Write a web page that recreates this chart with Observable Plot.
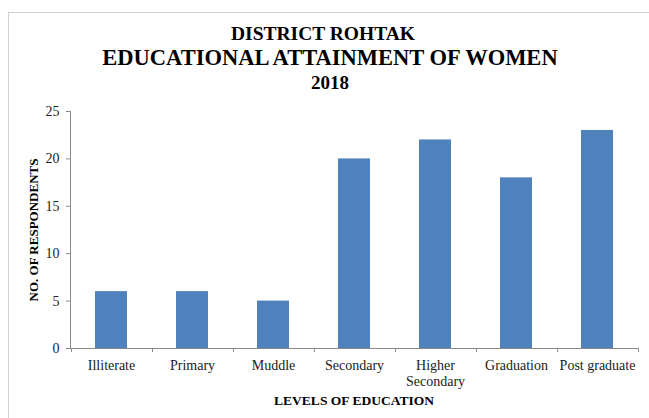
<!DOCTYPE html>
<html>
<head>
<meta charset="utf-8">
<script src="https://cdn.jsdelivr.net/npm/d3@7"></script>
<script src="https://cdn.jsdelivr.net/npm/@observablehq/plot@0.6"></script>
<style>
  html, body { margin: 0; padding: 0; background: #fff; overflow: hidden; }
  #wrap { position: relative; width: 649px; height: 418px; overflow: hidden; font-family: "Liberation Serif", "Times New Roman", serif; color: #000; }
  #border { position: absolute; left: 8px; top: 12px; width: 700px; height: 500px; border: 1px solid #d0d0d0; box-sizing: border-box; }
  .t { position: absolute; left: 330px; transform: translateX(-50%); white-space: nowrap; font-weight: bold; line-height: 1; font-family: "Liberation Serif", "Times New Roman", serif; }
  #plot { position: absolute; left: 0; top: 0; }
  #ylab { position: absolute; left: 34px; top: 230px; transform: translate(-50%, -50%) rotate(-90deg); white-space: nowrap; font-weight: bold; font-size: 13px; }
  #xlab { position: absolute; left: 354px; top: 394px; transform: translateX(-50%); white-space: nowrap; font-weight: bold; font-size: 13.5px; line-height: 1; }
</style>
</head>
<body>
<div id="wrap">
  <div id="border"></div>
  <div id="plot"></div>
  <div class="t" style="top:24px;font-size:19.5px;left:323px;">DISTRICT ROHTAK</div>
  <div class="t" style="top:47px;font-size:22.5px;">EDUCATIONAL ATTAINMENT OF WOMEN</div>
  <div class="t" style="top:73px;font-size:19px;">2018</div>
  <div id="ylab">NO. OF RESPONDENTS</div>
  <div id="xlab">LEVELS OF EDUCATION</div>
</div>
<script>
const categories = ["Illiterate", "Primary", "Muddle", "Secondary", "Higher Secondary", "Graduation", "Post graduate"];
const tickLabels = ["Illiterate", "Primary", "Muddle", "Secondary", "Higher\nSecondary", "Graduation", "Post graduate"];
const respondents = [6, 6, 5, 20, 22, 18, 23];
const yTicks = [0, 5, 10, 15, 20, 25];

const data = categories.map((c, i) => ({category: c, value: respondents[i]}));
const labelOf = new Map(categories.map((c, i) => [c, tickLabels[i]]));

const plot = Plot.plot({
  width: 649,
  height: 418,
  marginTop: 111,
  marginBottom: 70,
  marginLeft: 70,
  marginRight: 11,
  style: {fontFamily: "'Liberation Serif', 'Times New Roman', serif", background: "transparent", overflow: "visible"},
  x: {domain: categories, paddingInner: 0.6, paddingOuter: 0.3},
  y: {domain: [0, 25]},
  marks: [
    Plot.barY(data, {x: "category", y: "value", fill: "#4f81bd"}),
    Plot.ruleY([0], {stroke: "#8c8c8c"}),
    Plot.axisY({ticks: yTicks, tickSize: 4, tickPadding: 7, stroke: "#8c8c8c", fill: "#222", fontSize: 14, label: null}),
    Plot.axisX({tickSize: 0, tickPadding: 10, fill: "#222", fontSize: 14, lineHeight: 1.15, tickFormat: d => labelOf.get(d), label: null})
  ]
});
document.getElementById("plot").appendChild(plot);

// axis line on the left and boundary ticks on the x axis, using the plot's scales
const xs = plot.scale("x"), ys = plot.scale("y");
const svg = d3.select(plot);
const g = svg.append("g").attr("stroke", "#8c8c8c").attr("stroke-width", 1);
const x0 = xs.range[0];
g.append("line").attr("x1", x0 + 0.5).attr("x2", x0 + 0.5).attr("y1", ys.apply(0)).attr("y2", ys.apply(25));
const bounds = categories.map(c => xs.apply(c) + xs.bandwidth / 2 - xs.step / 2);
bounds.push(xs.apply(categories[categories.length - 1]) + xs.bandwidth / 2 + xs.step / 2);
bounds.forEach(b => {
  g.append("line").attr("x1", Math.round(b) + 0.5).attr("x2", Math.round(b) + 0.5)
    .attr("y1", ys.apply(0)).attr("y2", ys.apply(0) + 4);
});
</script>
</body>
</html>
